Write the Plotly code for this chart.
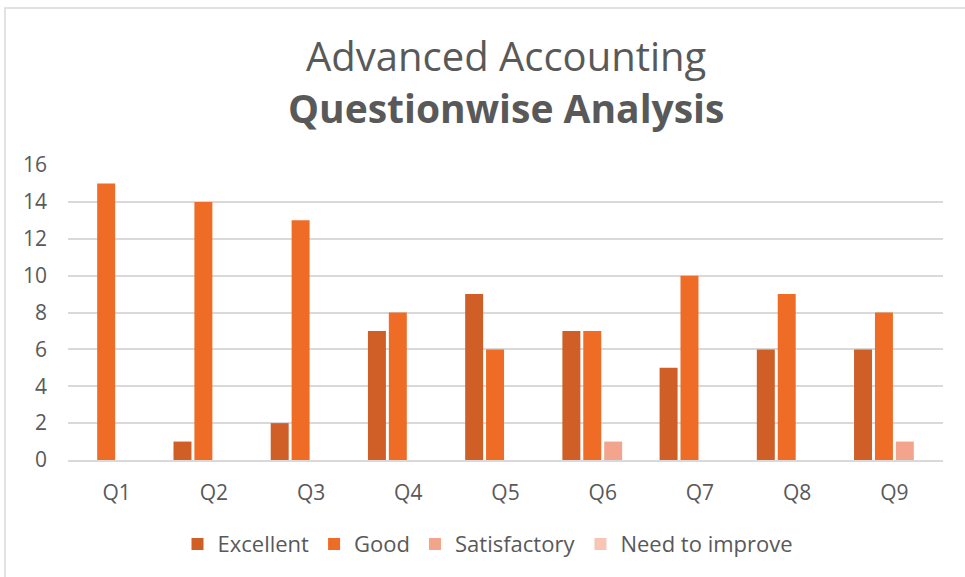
import plotly.graph_objects as go

categories = ["Q1", "Q2", "Q3", "Q4", "Q5", "Q6", "Q7", "Q8", "Q9"]
excellent = [0, 1, 2, 7, 9, 7, 5, 6, 6]
good = [15, 14, 13, 8, 6, 7, 10, 9, 8]
satisfactory = [0, 0, 0, 0, 0, 1, 0, 0, 1]
need_to_improve = [0, 0, 0, 0, 0, 0, 0, 0, 0]
y_ticks = [0, 2, 4, 6, 8, 10, 12, 14, 16]
title_line1 = "Advanced Accounting"
title_line2 = "Questionwise Analysis"

series = [
    ("Excellent", excellent, "#CF5F27"),
    ("Good", good, "#EE6C26"),
    ("Satisfactory", satisfactory, "#F2A58C"),
    ("Need to improve", need_to_improve, "#F6C5B5"),
]

FONT = "Open Sans, Roboto, Liberation Sans, sans-serif"
fig = go.Figure()
for name, vals, col in series:
    fig.add_trace(go.Bar(name=name, x=categories, y=vals, marker=dict(color=col, line=dict(width=0))))

fig.update_layout(
    width=965, height=577,
    paper_bgcolor="white", plot_bgcolor="white",
    margin=dict(l=68, r=22, t=165, b=117, autoexpand=False),
    barmode="group", bargap=0.14, bargroupgap=0.14,
    font=dict(family=FONT, color="#595959", size=21),
    legend=dict(orientation="h", x=0.48, xanchor="center", y=-0.285, yanchor="middle",
                font=dict(size=22, color="#595959"), itemwidth=30, traceorder="normal"),
    xaxis=dict(showgrid=False, showline=True, linecolor="#D9D9D9", linewidth=1.5,
               ticks="", tickfont=dict(size=21, color="#595959"), ticklabelstandoff=13),
    yaxis=dict(range=[0, 16], tickvals=y_ticks, showgrid=True, gridcolor="#D9D9D9", gridwidth=1.5,
               zeroline=False, showline=False, ticks="", tickfont=dict(size=21, color="#595959"),
               ticklabelstandoff=20),
    annotations=[
        dict(text=title_line1, xref="paper", yref="paper", x=0.5, y=1.37, xanchor="center",
             yanchor="middle", showarrow=False, font=dict(family=FONT, size=40, color="#595959")),
        dict(text="<b>" + title_line2 + "</b>", xref="paper", yref="paper", x=0.5, y=1.195,
             xanchor="center", yanchor="middle", showarrow=False,
             font=dict(family=FONT, size=39, color="#595959")),
    ],
    shapes=[dict(type="rect", xref="paper", yref="paper", x0=-0.072, x1=1.2, y0=-0.8, y1=1.532,
                 line=dict(color="#D9D9D9", width=1.5), fillcolor="rgba(0,0,0,0)", layer="below")],
)

fig.write_html("out.html", post_script="document.body.style.margin='0';",
               config={"displayModeBar": False})
